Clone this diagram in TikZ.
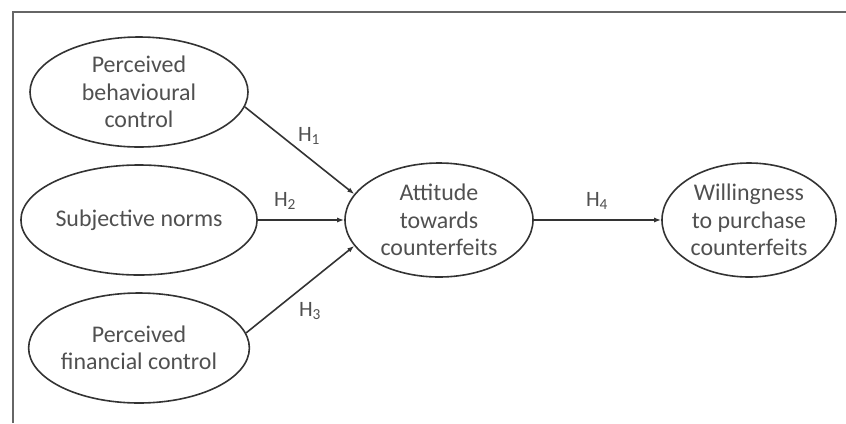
\documentclass[tikz,border=0pt]{standalone}
\usepackage{fontspec}
\setmainfont{Carlito}
\usetikzlibrary{shapes.geometric,arrows.meta}
\definecolor{linegray}{HTML}{333333}
\definecolor{textgray}{HTML}{505050}
\begin{document}
\begin{tikzpicture}[x=1bp, y=-1bp, font=\fontsize{24}{27.5}\selectfont,
    construct/.style={draw=linegray, line width=1.6bp, ellipse, align=center,
        text=textgray, inner sep=0pt},
    path/.style={draw=linegray, line width=1.6bp, -{Latex[length=7bp,width=5bp]}},
    hyp/.style={text=textgray, font=\fontsize{22}{24}\selectfont}]

    % 1. Рамка (только верх и левый край)
    \useasboundingbox (0,0) rectangle (846,423);
    \draw[line width=1.6bp, gray!80!black] (13,423) -- (13,12) -- (846,12);

    % 2. Левые эллипсы (предикторы)
    \node[construct, minimum width=218bp, minimum height=110bp] (pbc) at (139,92)
        {Perceived\\behavioural\\control};
    \node[construct, minimum width=218bp, minimum height=110bp] (sn) at (139,220)
        {Subjective norms};
    \node[construct, minimum width=218bp, minimum height=110bp] (pfc) at (139,348)
        {Perceived\\financial control};

    % 3. Центральный и правый эллипсы
    \node[construct, minimum width=188bp, minimum height=114bp] (att) at (439,220)
        {Attitude\\towards\\counterfeits};
    \node[construct, minimum width=174bp, minimum height=114bp] (will) at (749,220)
        {Willingness\\to purchase\\counterfeits};

    % 4. Стрелки (гипотезы)
    \draw[path] (pbc.-8) -- (att.163);
    \draw[path] (sn) -- (att);
    \draw[path] (pfc.8) -- (att.197);
    \draw[path] (att) -- (will);

    % 5. Подписи H_1 ... H_4
    \node[hyp] (h1) at (309,136) {H\textsubscript{1}};
    \node[hyp] (h2) at (285,201) {H\textsubscript{2}};
    \node[hyp] (h3) at (310,311) {H\textsubscript{3}};
    \node[hyp] (h4) at (597,201) {H\textsubscript{4}};

\end{tikzpicture}
\end{document}
